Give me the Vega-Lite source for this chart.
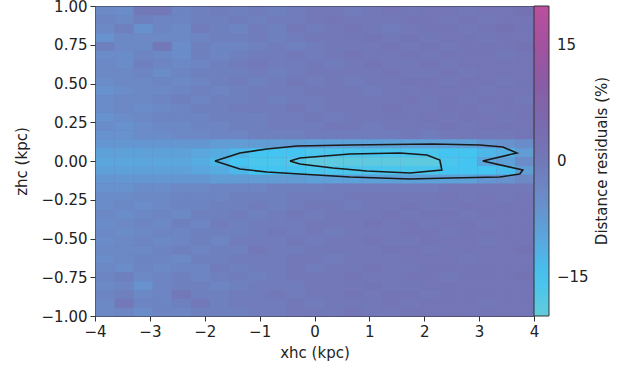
{
"$schema":"https://vega.github.io/schema/vega-lite/v6.json",
"width":439,"height":310,
"autosize":{"type":"none"},
"padding":{"left":95,"top":6,"right":96,"bottom":54},
"background":"white",
"config":{"font":"DejaVu Sans","view":{"stroke":"#333","strokeWidth":1,"fill":"#6f80be"},
"axis":{"domain":false,"grid":false,"tickColor":"#333","tickSize":5,"labelFontSize":15,"labelColor":"#222","titleFontSize":15,"titleFontWeight":"normal","titleColor":"#222","labelFont":"DejaVu Sans","titleFont":"DejaVu Sans","labelFlush":false}},
"datasets":{
"grid":[
{"x":-4,"z":0.943,"r":-4},{"x":-3.652,"z":0.943,"r":-5},{"x":-3.304,"z":0.943,"r":0},{"x":-2.957,"z":0.943,"r":0},{"x":-2.609,"z":0.943,"r":-3},{"x":-2.261,"z":0.943,"r":-2},{"x":-1.913,"z":0.943,"r":-1},{"x":-1.565,"z":0.943,"r":-2},{"x":-1.217,"z":0.943,"r":-1},{"x":-0.87,"z":0.943,"r":-2},{"x":-0.522,"z":0.943,"r":-1},{"x":-0.174,"z":0.943,"r":0},{"x":0.174,"z":0.943,"r":0},{"x":0.522,"z":0.943,"r":-1},{"x":0.87,"z":0.943,"r":0},{"x":1.217,"z":0.943,"r":1},{"x":1.565,"z":0.943,"r":0},{"x":1.913,"z":0.943,"r":1},{"x":2.261,"z":0.943,"r":1},{"x":2.609,"z":0.943,"r":0},{"x":2.957,"z":0.943,"r":1},{"x":3.304,"z":0.943,"r":1},{"x":3.652,"z":0.943,"r":2},
{"x":-4,"z":0.886,"r":-3},{"x":-3.652,"z":0.886,"r":-4},{"x":-3.304,"z":0.886,"r":-2},{"x":-2.957,"z":0.886,"r":-3},{"x":-2.609,"z":0.886,"r":-3},{"x":-2.261,"z":0.886,"r":-2},{"x":-1.913,"z":0.886,"r":-2},{"x":-1.565,"z":0.886,"r":-1},{"x":-1.217,"z":0.886,"r":-2},{"x":-0.87,"z":0.886,"r":-1},{"x":-0.522,"z":0.886,"r":-1},{"x":-0.174,"z":0.886,"r":0},{"x":0.174,"z":0.886,"r":1},{"x":0.522,"z":0.886,"r":0},{"x":0.87,"z":0.886,"r":0},{"x":1.217,"z":0.886,"r":0},{"x":1.565,"z":0.886,"r":1},{"x":1.913,"z":0.886,"r":1},{"x":2.261,"z":0.886,"r":0},{"x":2.609,"z":0.886,"r":1},{"x":2.957,"z":0.886,"r":0},{"x":3.304,"z":0.886,"r":1},{"x":3.652,"z":0.886,"r":1},
{"x":-4,"z":0.829,"r":-4},{"x":-3.652,"z":0.829,"r":-2},{"x":-3.304,"z":0.829,"r":-6},{"x":-2.957,"z":0.829,"r":-3},{"x":-2.609,"z":0.829,"r":-4},{"x":-2.261,"z":0.829,"r":-1},{"x":-1.913,"z":0.829,"r":-2},{"x":-1.565,"z":0.829,"r":-3},{"x":-1.217,"z":0.829,"r":-1},{"x":-0.87,"z":0.829,"r":-2},{"x":-0.522,"z":0.829,"r":0},{"x":-0.174,"z":0.829,"r":-1},{"x":0.174,"z":0.829,"r":0},{"x":0.522,"z":0.829,"r":1},{"x":0.87,"z":0.829,"r":0},{"x":1.217,"z":0.829,"r":-1},{"x":1.565,"z":0.829,"r":0},{"x":1.913,"z":0.829,"r":1},{"x":2.261,"z":0.829,"r":1},{"x":2.609,"z":0.829,"r":0},{"x":2.957,"z":0.829,"r":1},{"x":3.304,"z":0.829,"r":2},{"x":3.652,"z":0.829,"r":1},
{"x":-4,"z":0.771,"r":-6},{"x":-3.652,"z":0.771,"r":-4},{"x":-3.304,"z":0.771,"r":-4},{"x":-2.957,"z":0.771,"r":-4},{"x":-2.609,"z":0.771,"r":-4},{"x":-2.261,"z":0.771,"r":-3},{"x":-1.913,"z":0.771,"r":-2},{"x":-1.565,"z":0.771,"r":-2},{"x":-1.217,"z":0.771,"r":-1},{"x":-0.87,"z":0.771,"r":-2},{"x":-0.522,"z":0.771,"r":-1},{"x":-0.174,"z":0.771,"r":0},{"x":0.174,"z":0.771,"r":0},{"x":0.522,"z":0.771,"r":0},{"x":0.87,"z":0.771,"r":1},{"x":1.217,"z":0.771,"r":0},{"x":1.565,"z":0.771,"r":1},{"x":1.913,"z":0.771,"r":0},{"x":2.261,"z":0.771,"r":1},{"x":2.609,"z":0.771,"r":1},{"x":2.957,"z":0.771,"r":0},{"x":3.304,"z":0.771,"r":1},{"x":3.652,"z":0.771,"r":1},
{"x":-4,"z":0.714,"r":-2},{"x":-3.652,"z":0.714,"r":-4},{"x":-3.304,"z":0.714,"r":-4},{"x":-2.957,"z":0.714,"r":0},{"x":-2.609,"z":0.714,"r":-5},{"x":-2.261,"z":0.714,"r":-2},{"x":-1.913,"z":0.714,"r":-3},{"x":-1.565,"z":0.714,"r":-3},{"x":-1.217,"z":0.714,"r":-2},{"x":-0.87,"z":0.714,"r":-1},{"x":-0.522,"z":0.714,"r":-2},{"x":-0.174,"z":0.714,"r":-1},{"x":0.174,"z":0.714,"r":0},{"x":0.522,"z":0.714,"r":0},{"x":0.87,"z":0.714,"r":0},{"x":1.217,"z":0.714,"r":1},{"x":1.565,"z":0.714,"r":0},{"x":1.913,"z":0.714,"r":1},{"x":2.261,"z":0.714,"r":0},{"x":2.609,"z":0.714,"r":1},{"x":2.957,"z":0.714,"r":1},{"x":3.304,"z":0.714,"r":1},{"x":3.652,"z":0.714,"r":2},
{"x":-4,"z":0.657,"r":-5},{"x":-3.652,"z":0.657,"r":-5},{"x":-3.304,"z":0.657,"r":-3},{"x":-2.957,"z":0.657,"r":-4},{"x":-2.609,"z":0.657,"r":-5},{"x":-2.261,"z":0.657,"r":-2},{"x":-1.913,"z":0.657,"r":-3},{"x":-1.565,"z":0.657,"r":-2},{"x":-1.217,"z":0.657,"r":-1},{"x":-0.87,"z":0.657,"r":-1},{"x":-0.522,"z":0.657,"r":0},{"x":-0.174,"z":0.657,"r":-1},{"x":0.174,"z":0.657,"r":0},{"x":0.522,"z":0.657,"r":1},{"x":0.87,"z":0.657,"r":0},{"x":1.217,"z":0.657,"r":0},{"x":1.565,"z":0.657,"r":1},{"x":1.913,"z":0.657,"r":0},{"x":2.261,"z":0.657,"r":1},{"x":2.609,"z":0.657,"r":1},{"x":2.957,"z":0.657,"r":1},{"x":3.304,"z":0.657,"r":0},{"x":3.652,"z":0.657,"r":1},
{"x":-4,"z":0.6,"r":-4},{"x":-3.652,"z":0.6,"r":-5},{"x":-3.304,"z":0.6,"r":-2},{"x":-2.957,"z":0.6,"r":-3},{"x":-2.609,"z":0.6,"r":-4},{"x":-2.261,"z":0.6,"r":-3},{"x":-1.913,"z":0.6,"r":-2},{"x":-1.565,"z":0.6,"r":-1},{"x":-1.217,"z":0.6,"r":0},{"x":-0.87,"z":0.6,"r":-1},{"x":-0.522,"z":0.6,"r":-1},{"x":-0.174,"z":0.6,"r":0},{"x":0.174,"z":0.6,"r":-1},{"x":0.522,"z":0.6,"r":0},{"x":0.87,"z":0.6,"r":1},{"x":1.217,"z":0.6,"r":0},{"x":1.565,"z":0.6,"r":0},{"x":1.913,"z":0.6,"r":1},{"x":2.261,"z":0.6,"r":0},{"x":2.609,"z":0.6,"r":1},{"x":2.957,"z":0.6,"r":1},{"x":3.304,"z":0.6,"r":1},{"x":3.652,"z":0.6,"r":1},
{"x":-4,"z":0.543,"r":-4},{"x":-3.652,"z":0.543,"r":-4},{"x":-3.304,"z":0.543,"r":-3},{"x":-2.957,"z":0.543,"r":-5},{"x":-2.609,"z":0.543,"r":-3},{"x":-2.261,"z":0.543,"r":-2},{"x":-1.913,"z":0.543,"r":-2},{"x":-1.565,"z":0.543,"r":-2},{"x":-1.217,"z":0.543,"r":-1},{"x":-0.87,"z":0.543,"r":-2},{"x":-0.522,"z":0.543,"r":-1},{"x":-0.174,"z":0.543,"r":0},{"x":0.174,"z":0.543,"r":0},{"x":0.522,"z":0.543,"r":0},{"x":0.87,"z":0.543,"r":0},{"x":1.217,"z":0.543,"r":1},{"x":1.565,"z":0.543,"r":0},{"x":1.913,"z":0.543,"r":0},{"x":2.261,"z":0.543,"r":1},{"x":2.609,"z":0.543,"r":0},{"x":2.957,"z":0.543,"r":1},{"x":3.304,"z":0.543,"r":1},{"x":3.652,"z":0.543,"r":1},
{"x":-4,"z":0.486,"r":-5},{"x":-3.652,"z":0.486,"r":-4},{"x":-3.304,"z":0.486,"r":-4},{"x":-2.957,"z":0.486,"r":-3},{"x":-2.609,"z":0.486,"r":-4},{"x":-2.261,"z":0.486,"r":-3},{"x":-1.913,"z":0.486,"r":-2},{"x":-1.565,"z":0.486,"r":-1},{"x":-1.217,"z":0.486,"r":-2},{"x":-0.87,"z":0.486,"r":-1},{"x":-0.522,"z":0.486,"r":0},{"x":-0.174,"z":0.486,"r":-1},{"x":0.174,"z":0.486,"r":0},{"x":0.522,"z":0.486,"r":-1},{"x":0.87,"z":0.486,"r":0},{"x":1.217,"z":0.486,"r":0},{"x":1.565,"z":0.486,"r":1},{"x":1.913,"z":0.486,"r":1},{"x":2.261,"z":0.486,"r":0},{"x":2.609,"z":0.486,"r":1},{"x":2.957,"z":0.486,"r":1},{"x":3.304,"z":0.486,"r":0},{"x":3.652,"z":0.486,"r":1},
{"x":-4,"z":0.429,"r":-6},{"x":-3.652,"z":0.429,"r":-5},{"x":-3.304,"z":0.429,"r":-4},{"x":-2.957,"z":0.429,"r":-4},{"x":-2.609,"z":0.429,"r":-3},{"x":-2.261,"z":0.429,"r":-2},{"x":-1.913,"z":0.429,"r":-3},{"x":-1.565,"z":0.429,"r":-2},{"x":-1.217,"z":0.429,"r":-1},{"x":-0.87,"z":0.429,"r":-1},{"x":-0.522,"z":0.429,"r":-1},{"x":-0.174,"z":0.429,"r":0},{"x":0.174,"z":0.429,"r":0},{"x":0.522,"z":0.429,"r":0},{"x":0.87,"z":0.429,"r":-1},{"x":1.217,"z":0.429,"r":0},{"x":1.565,"z":0.429,"r":0},{"x":1.913,"z":0.429,"r":1},{"x":2.261,"z":0.429,"r":1},{"x":2.609,"z":0.429,"r":1},{"x":2.957,"z":0.429,"r":0},{"x":3.304,"z":0.429,"r":1},{"x":3.652,"z":0.429,"r":1},
{"x":-4,"z":0.371,"r":-5},{"x":-3.652,"z":0.371,"r":-4},{"x":-3.304,"z":0.371,"r":-4},{"x":-2.957,"z":0.371,"r":-3},{"x":-2.609,"z":0.371,"r":-2},{"x":-2.261,"z":0.371,"r":-3},{"x":-1.913,"z":0.371,"r":-2},{"x":-1.565,"z":0.371,"r":-2},{"x":-1.217,"z":0.371,"r":-1},{"x":-0.87,"z":0.371,"r":-2},{"x":-0.522,"z":0.371,"r":-1},{"x":-0.174,"z":0.371,"r":-1},{"x":0.174,"z":0.371,"r":0},{"x":0.522,"z":0.371,"r":0},{"x":0.87,"z":0.371,"r":0},{"x":1.217,"z":0.371,"r":0},{"x":1.565,"z":0.371,"r":1},{"x":1.913,"z":0.371,"r":0},{"x":2.261,"z":0.371,"r":1},{"x":2.609,"z":0.371,"r":0},{"x":2.957,"z":0.371,"r":1},{"x":3.304,"z":0.371,"r":1},{"x":3.652,"z":0.371,"r":0},
{"x":-4,"z":0.314,"r":-5},{"x":-3.652,"z":0.314,"r":-4},{"x":-3.304,"z":0.314,"r":-5},{"x":-2.957,"z":0.314,"r":-4},{"x":-2.609,"z":0.314,"r":-3},{"x":-2.261,"z":0.314,"r":-2},{"x":-1.913,"z":0.314,"r":-2},{"x":-1.565,"z":0.314,"r":-1},{"x":-1.217,"z":0.314,"r":-1},{"x":-0.87,"z":0.314,"r":-1},{"x":-0.522,"z":0.314,"r":0},{"x":-0.174,"z":0.314,"r":-1},{"x":0.174,"z":0.314,"r":0},{"x":0.522,"z":0.314,"r":0},{"x":0.87,"z":0.314,"r":0},{"x":1.217,"z":0.314,"r":1},{"x":1.565,"z":0.314,"r":0},{"x":1.913,"z":0.314,"r":0},{"x":2.261,"z":0.314,"r":1},{"x":2.609,"z":0.314,"r":1},{"x":2.957,"z":0.314,"r":0},{"x":3.304,"z":0.314,"r":1},{"x":3.652,"z":0.314,"r":1},
{"x":-4,"z":0.257,"r":-6},{"x":-3.652,"z":0.257,"r":-5},{"x":-3.304,"z":0.257,"r":-4},{"x":-2.957,"z":0.257,"r":-3},{"x":-2.609,"z":0.257,"r":-3},{"x":-2.261,"z":0.257,"r":-3},{"x":-1.913,"z":0.257,"r":-2},{"x":-1.565,"z":0.257,"r":-2},{"x":-1.217,"z":0.257,"r":-2},{"x":-0.87,"z":0.257,"r":-1},{"x":-0.522,"z":0.257,"r":-1},{"x":-0.174,"z":0.257,"r":0},{"x":0.174,"z":0.257,"r":-1},{"x":0.522,"z":0.257,"r":0},{"x":0.87,"z":0.257,"r":0},{"x":1.217,"z":0.257,"r":0},{"x":1.565,"z":0.257,"r":0},{"x":1.913,"z":0.257,"r":1},{"x":2.261,"z":0.257,"r":0},{"x":2.609,"z":0.257,"r":1},{"x":2.957,"z":0.257,"r":1},{"x":3.304,"z":0.257,"r":0},{"x":3.652,"z":0.257,"r":1},
{"x":-4,"z":0.2,"r":-5},{"x":-3.652,"z":0.2,"r":-6},{"x":-3.304,"z":0.2,"r":-5},{"x":-2.957,"z":0.2,"r":-4},{"x":-2.609,"z":0.2,"r":-4},{"x":-2.261,"z":0.2,"r":-3},{"x":-1.913,"z":0.2,"r":-3},{"x":-1.565,"z":0.2,"r":-2},{"x":-1.217,"z":0.2,"r":-2},{"x":-0.87,"z":0.2,"r":-1},{"x":-0.522,"z":0.2,"r":-1},{"x":-0.174,"z":0.2,"r":-1},{"x":0.174,"z":0.2,"r":0},{"x":0.522,"z":0.2,"r":0},{"x":0.87,"z":0.2,"r":-1},{"x":1.217,"z":0.2,"r":0},{"x":1.565,"z":0.2,"r":0},{"x":1.913,"z":0.2,"r":0},{"x":2.261,"z":0.2,"r":1},{"x":2.609,"z":0.2,"r":0},{"x":2.957,"z":0.2,"r":1},{"x":3.304,"z":0.2,"r":1},{"x":3.652,"z":0.2,"r":1},
{"x":-4,"z":0.143,"r":-6},{"x":-3.652,"z":0.143,"r":-6},{"x":-3.304,"z":0.143,"r":-5},{"x":-2.957,"z":0.143,"r":-5},{"x":-2.609,"z":0.143,"r":-4},{"x":-2.261,"z":0.143,"r":-4},{"x":-1.913,"z":0.143,"r":-3},{"x":-1.565,"z":0.143,"r":-3},{"x":-1.217,"z":0.143,"r":-2},{"x":-0.87,"z":0.143,"r":-2},{"x":-0.522,"z":0.143,"r":-2},{"x":-0.174,"z":0.143,"r":-1},{"x":0.174,"z":0.143,"r":-1},{"x":0.522,"z":0.143,"r":-1},{"x":0.87,"z":0.143,"r":-1},{"x":1.217,"z":0.143,"r":-1},{"x":1.565,"z":0.143,"r":0},{"x":1.913,"z":0.143,"r":-1},{"x":2.261,"z":0.143,"r":0},{"x":2.609,"z":0.143,"r":0},{"x":2.957,"z":0.143,"r":0},{"x":3.304,"z":0.143,"r":0},{"x":3.652,"z":0.143,"r":1},
{"x":-4,"z":0.086,"r":-7},{"x":-3.652,"z":0.086,"r":-7},{"x":-3.304,"z":0.086,"r":-7},{"x":-2.957,"z":0.086,"r":-7},{"x":-2.609,"z":0.086,"r":-7},{"x":-2.261,"z":0.086,"r":-7},{"x":-1.913,"z":0.086,"r":-8},{"x":-1.565,"z":0.086,"r":-8},{"x":-1.217,"z":0.086,"r":-8},{"x":-0.87,"z":0.086,"r":-8},{"x":-0.522,"z":0.086,"r":-8},{"x":-0.174,"z":0.086,"r":-9},{"x":0.174,"z":0.086,"r":-9},{"x":0.522,"z":0.086,"r":-9},{"x":0.87,"z":0.086,"r":-9},{"x":1.217,"z":0.086,"r":-9},{"x":1.565,"z":0.086,"r":-9},{"x":1.913,"z":0.086,"r":-9},{"x":2.261,"z":0.086,"r":-9},{"x":2.609,"z":0.086,"r":-9},{"x":2.957,"z":0.086,"r":-7},{"x":3.304,"z":0.086,"r":-6},{"x":3.652,"z":0.086,"r":-5},
{"x":-4,"z":0.029,"r":-9},{"x":-3.652,"z":0.029,"r":-9},{"x":-3.304,"z":0.029,"r":-9},{"x":-2.957,"z":0.029,"r":-9},{"x":-2.609,"z":0.029,"r":-9},{"x":-2.261,"z":0.029,"r":-10},{"x":-1.913,"z":0.029,"r":-11},{"x":-1.565,"z":0.029,"r":-13},{"x":-1.217,"z":0.029,"r":-15},{"x":-0.87,"z":0.029,"r":-15},{"x":-0.522,"z":0.029,"r":-15},{"x":-0.174,"z":0.029,"r":-16},{"x":0.174,"z":0.029,"r":-16},{"x":0.522,"z":0.029,"r":-16},{"x":0.87,"z":0.029,"r":-16},{"x":1.217,"z":0.029,"r":-16},{"x":1.565,"z":0.029,"r":-16},{"x":1.913,"z":0.029,"r":-16},{"x":2.261,"z":0.029,"r":-15},{"x":2.609,"z":0.029,"r":-15},{"x":2.957,"z":0.029,"r":-13},{"x":3.304,"z":0.029,"r":-12},{"x":3.652,"z":0.029,"r":-8},
{"x":-4,"z":-0.029,"r":-10},{"x":-3.652,"z":-0.029,"r":-10},{"x":-3.304,"z":-0.029,"r":-10},{"x":-2.957,"z":-0.029,"r":-10},{"x":-2.609,"z":-0.029,"r":-10},{"x":-2.261,"z":-0.029,"r":-11},{"x":-1.913,"z":-0.029,"r":-13},{"x":-1.565,"z":-0.029,"r":-15},{"x":-1.217,"z":-0.029,"r":-16},{"x":-0.87,"z":-0.029,"r":-16},{"x":-0.522,"z":-0.029,"r":-17},{"x":-0.174,"z":-0.029,"r":-19},{"x":0.174,"z":-0.029,"r":-19},{"x":0.522,"z":-0.029,"r":-19},{"x":0.87,"z":-0.029,"r":-19},{"x":1.217,"z":-0.029,"r":-19},{"x":1.565,"z":-0.029,"r":-19},{"x":1.913,"z":-0.029,"r":-19},{"x":2.261,"z":-0.029,"r":-16},{"x":2.609,"z":-0.029,"r":-15},{"x":2.957,"z":-0.029,"r":-10},{"x":3.304,"z":-0.029,"r":-9},{"x":3.652,"z":-0.029,"r":-5},
{"x":-4,"z":-0.086,"r":-9},{"x":-3.652,"z":-0.086,"r":-9},{"x":-3.304,"z":-0.086,"r":-9},{"x":-2.957,"z":-0.086,"r":-9},{"x":-2.609,"z":-0.086,"r":-9},{"x":-2.261,"z":-0.086,"r":-10},{"x":-1.913,"z":-0.086,"r":-11},{"x":-1.565,"z":-0.086,"r":-13},{"x":-1.217,"z":-0.086,"r":-15},{"x":-0.87,"z":-0.086,"r":-15},{"x":-0.522,"z":-0.086,"r":-15},{"x":-0.174,"z":-0.086,"r":-16},{"x":0.174,"z":-0.086,"r":-16},{"x":0.522,"z":-0.086,"r":-16},{"x":0.87,"z":-0.086,"r":-16},{"x":1.217,"z":-0.086,"r":-16},{"x":1.565,"z":-0.086,"r":-16},{"x":1.913,"z":-0.086,"r":-16},{"x":2.261,"z":-0.086,"r":-15},{"x":2.609,"z":-0.086,"r":-15},{"x":2.957,"z":-0.086,"r":-15},{"x":3.304,"z":-0.086,"r":-14},{"x":3.652,"z":-0.086,"r":-8},
{"x":-4,"z":-0.143,"r":-7},{"x":-3.652,"z":-0.143,"r":-7},{"x":-3.304,"z":-0.143,"r":-7},{"x":-2.957,"z":-0.143,"r":-7},{"x":-2.609,"z":-0.143,"r":-7},{"x":-2.261,"z":-0.143,"r":-7},{"x":-1.913,"z":-0.143,"r":-8},{"x":-1.565,"z":-0.143,"r":-8},{"x":-1.217,"z":-0.143,"r":-8},{"x":-0.87,"z":-0.143,"r":-8},{"x":-0.522,"z":-0.143,"r":-8},{"x":-0.174,"z":-0.143,"r":-9},{"x":0.174,"z":-0.143,"r":-9},{"x":0.522,"z":-0.143,"r":-9},{"x":0.87,"z":-0.143,"r":-9},{"x":1.217,"z":-0.143,"r":-9},{"x":1.565,"z":-0.143,"r":-9},{"x":1.913,"z":-0.143,"r":-9},{"x":2.261,"z":-0.143,"r":-9},{"x":2.609,"z":-0.143,"r":-9},{"x":2.957,"z":-0.143,"r":-7},{"x":3.304,"z":-0.143,"r":-6},{"x":3.652,"z":-0.143,"r":-4},
{"x":-4,"z":-0.2,"r":-6},{"x":-3.652,"z":-0.2,"r":-6},{"x":-3.304,"z":-0.2,"r":-5},{"x":-2.957,"z":-0.2,"r":-5},{"x":-2.609,"z":-0.2,"r":-4},{"x":-2.261,"z":-0.2,"r":-4},{"x":-1.913,"z":-0.2,"r":-3},{"x":-1.565,"z":-0.2,"r":-3},{"x":-1.217,"z":-0.2,"r":-3},{"x":-0.87,"z":-0.2,"r":-2},{"x":-0.522,"z":-0.2,"r":-2},{"x":-0.174,"z":-0.2,"r":-2},{"x":0.174,"z":-0.2,"r":-1},{"x":0.522,"z":-0.2,"r":-1},{"x":0.87,"z":-0.2,"r":-1},{"x":1.217,"z":-0.2,"r":-1},{"x":1.565,"z":-0.2,"r":-1},{"x":1.913,"z":-0.2,"r":-1},{"x":2.261,"z":-0.2,"r":0},{"x":2.609,"z":-0.2,"r":0},{"x":2.957,"z":-0.2,"r":0},{"x":3.304,"z":-0.2,"r":0},{"x":3.652,"z":-0.2,"r":0},
{"x":-4,"z":-0.257,"r":-5},{"x":-3.652,"z":-0.257,"r":-5},{"x":-3.304,"z":-0.257,"r":-4},{"x":-2.957,"z":-0.257,"r":-4},{"x":-2.609,"z":-0.257,"r":-3},{"x":-2.261,"z":-0.257,"r":-3},{"x":-1.913,"z":-0.257,"r":-3},{"x":-1.565,"z":-0.257,"r":-2},{"x":-1.217,"z":-0.257,"r":-2},{"x":-0.87,"z":-0.257,"r":-2},{"x":-0.522,"z":-0.257,"r":-1},{"x":-0.174,"z":-0.257,"r":-1},{"x":0.174,"z":-0.257,"r":-1},{"x":0.522,"z":-0.257,"r":0},{"x":0.87,"z":-0.257,"r":0},{"x":1.217,"z":-0.257,"r":0},{"x":1.565,"z":-0.257,"r":0},{"x":1.913,"z":-0.257,"r":0},{"x":2.261,"z":-0.257,"r":1},{"x":2.609,"z":-0.257,"r":0},{"x":2.957,"z":-0.257,"r":1},{"x":3.304,"z":-0.257,"r":0},{"x":3.652,"z":-0.257,"r":1},
{"x":-4,"z":-0.314,"r":-5},{"x":-3.652,"z":-0.314,"r":-4},{"x":-3.304,"z":-0.314,"r":-5},{"x":-2.957,"z":-0.314,"r":-4},{"x":-2.609,"z":-0.314,"r":-3},{"x":-2.261,"z":-0.314,"r":-3},{"x":-1.913,"z":-0.314,"r":-2},{"x":-1.565,"z":-0.314,"r":-2},{"x":-1.217,"z":-0.314,"r":-1},{"x":-0.87,"z":-0.314,"r":-2},{"x":-0.522,"z":-0.314,"r":-1},{"x":-0.174,"z":-0.314,"r":0},{"x":0.174,"z":-0.314,"r":0},{"x":0.522,"z":-0.314,"r":-1},{"x":0.87,"z":-0.314,"r":0},{"x":1.217,"z":-0.314,"r":0},{"x":1.565,"z":-0.314,"r":1},{"x":1.913,"z":-0.314,"r":0},{"x":2.261,"z":-0.314,"r":0},{"x":2.609,"z":-0.314,"r":1},{"x":2.957,"z":-0.314,"r":1},{"x":3.304,"z":-0.314,"r":1},{"x":3.652,"z":-0.314,"r":1},
{"x":-4,"z":-0.371,"r":-4},{"x":-3.652,"z":-0.371,"r":-5},{"x":-3.304,"z":-0.371,"r":-4},{"x":-2.957,"z":-0.371,"r":-3},{"x":-2.609,"z":-0.371,"r":-4},{"x":-2.261,"z":-0.371,"r":-2},{"x":-1.913,"z":-0.371,"r":-2},{"x":-1.565,"z":-0.371,"r":-1},{"x":-1.217,"z":-0.371,"r":-2},{"x":-0.87,"z":-0.371,"r":-1},{"x":-0.522,"z":-0.371,"r":0},{"x":-0.174,"z":-0.371,"r":-1},{"x":0.174,"z":-0.371,"r":0},{"x":0.522,"z":-0.371,"r":0},{"x":0.87,"z":-0.371,"r":0},{"x":1.217,"z":-0.371,"r":1},{"x":1.565,"z":-0.371,"r":0},{"x":1.913,"z":-0.371,"r":1},{"x":2.261,"z":-0.371,"r":1},{"x":2.609,"z":-0.371,"r":0},{"x":2.957,"z":-0.371,"r":1},{"x":3.304,"z":-0.371,"r":1},{"x":3.652,"z":-0.371,"r":1},
{"x":-4,"z":-0.429,"r":-5},{"x":-3.652,"z":-0.429,"r":-4},{"x":-3.304,"z":-0.429,"r":-3},{"x":-2.957,"z":-0.429,"r":-4},{"x":-2.609,"z":-0.429,"r":-2},{"x":-2.261,"z":-0.429,"r":-3},{"x":-1.913,"z":-0.429,"r":-1},{"x":-1.565,"z":-0.429,"r":-2},{"x":-1.217,"z":-0.429,"r":-1},{"x":-0.87,"z":-0.429,"r":-1},{"x":-0.522,"z":-0.429,"r":-1},{"x":-0.174,"z":-0.429,"r":0},{"x":0.174,"z":-0.429,"r":0},{"x":0.522,"z":-0.429,"r":0},{"x":0.87,"z":-0.429,"r":1},{"x":1.217,"z":-0.429,"r":0},{"x":1.565,"z":-0.429,"r":1},{"x":1.913,"z":-0.429,"r":0},{"x":2.261,"z":-0.429,"r":1},{"x":2.609,"z":-0.429,"r":1},{"x":2.957,"z":-0.429,"r":0},{"x":3.304,"z":-0.429,"r":1},{"x":3.652,"z":-0.429,"r":1},
{"x":-4,"z":-0.486,"r":-4},{"x":-3.652,"z":-0.486,"r":-5},{"x":-3.304,"z":-0.486,"r":-4},{"x":-2.957,"z":-0.486,"r":-3},{"x":-2.609,"z":-0.486,"r":-3},{"x":-2.261,"z":-0.486,"r":-2},{"x":-1.913,"z":-0.486,"r":-2},{"x":-1.565,"z":-0.486,"r":-2},{"x":-1.217,"z":-0.486,"r":-1},{"x":-0.87,"z":-0.486,"r":0},{"x":-0.522,"z":-0.486,"r":-1},{"x":-0.174,"z":-0.486,"r":0},{"x":0.174,"z":-0.486,"r":-1},{"x":0.522,"z":-0.486,"r":0},{"x":0.87,"z":-0.486,"r":0},{"x":1.217,"z":-0.486,"r":0},{"x":1.565,"z":-0.486,"r":1},{"x":1.913,"z":-0.486,"r":1},{"x":2.261,"z":-0.486,"r":0},{"x":2.609,"z":-0.486,"r":1},{"x":2.957,"z":-0.486,"r":1},{"x":3.304,"z":-0.486,"r":1},{"x":3.652,"z":-0.486,"r":1},
{"x":-4,"z":-0.543,"r":-5},{"x":-3.652,"z":-0.543,"r":-4},{"x":-3.304,"z":-0.543,"r":-3},{"x":-2.957,"z":-0.543,"r":-4},{"x":-2.609,"z":-0.543,"r":-3},{"x":-2.261,"z":-0.543,"r":-2},{"x":-1.913,"z":-0.543,"r":-3},{"x":-1.565,"z":-0.543,"r":-1},{"x":-1.217,"z":-0.543,"r":-1},{"x":-0.87,"z":-0.543,"r":-1},{"x":-0.522,"z":-0.543,"r":0},{"x":-0.174,"z":-0.543,"r":-1},{"x":0.174,"z":-0.543,"r":0},{"x":0.522,"z":-0.543,"r":0},{"x":0.87,"z":-0.543,"r":1},{"x":1.217,"z":-0.543,"r":0},{"x":1.565,"z":-0.543,"r":0},{"x":1.913,"z":-0.543,"r":1},{"x":2.261,"z":-0.543,"r":1},{"x":2.609,"z":-0.543,"r":1},{"x":2.957,"z":-0.543,"r":0},{"x":3.304,"z":-0.543,"r":1},{"x":3.652,"z":-0.543,"r":1},
{"x":-4,"z":-0.6,"r":-4},{"x":-3.652,"z":-0.6,"r":-4},{"x":-3.304,"z":-0.6,"r":-4},{"x":-2.957,"z":-0.6,"r":-3},{"x":-2.609,"z":-0.6,"r":-2},{"x":-2.261,"z":-0.6,"r":-3},{"x":-1.913,"z":-0.6,"r":-2},{"x":-1.565,"z":-0.6,"r":-2},{"x":-1.217,"z":-0.6,"r":0},{"x":-0.87,"z":-0.6,"r":-1},{"x":-0.522,"z":-0.6,"r":-1},{"x":-0.174,"z":-0.6,"r":0},{"x":0.174,"z":-0.6,"r":0},{"x":0.522,"z":-0.6,"r":0},{"x":0.87,"z":-0.6,"r":0},{"x":1.217,"z":-0.6,"r":1},{"x":1.565,"z":-0.6,"r":1},{"x":1.913,"z":-0.6,"r":0},{"x":2.261,"z":-0.6,"r":1},{"x":2.609,"z":-0.6,"r":1},{"x":2.957,"z":-0.6,"r":1},{"x":3.304,"z":-0.6,"r":1},{"x":3.652,"z":-0.6,"r":2},
{"x":-4,"z":-0.657,"r":-5},{"x":-3.652,"z":-0.657,"r":-4},{"x":-3.304,"z":-0.657,"r":-3},{"x":-2.957,"z":-0.657,"r":-3},{"x":-2.609,"z":-0.657,"r":-4},{"x":-2.261,"z":-0.657,"r":-2},{"x":-1.913,"z":-0.657,"r":-2},{"x":-1.565,"z":-0.657,"r":-1},{"x":-1.217,"z":-0.657,"r":-1},{"x":-0.87,"z":-0.657,"r":-1},{"x":-0.522,"z":-0.657,"r":0},{"x":-0.174,"z":-0.657,"r":0},{"x":0.174,"z":-0.657,"r":-1},{"x":0.522,"z":-0.657,"r":0},{"x":0.87,"z":-0.657,"r":0},{"x":1.217,"z":-0.657,"r":0},{"x":1.565,"z":-0.657,"r":1},{"x":1.913,"z":-0.657,"r":1},{"x":2.261,"z":-0.657,"r":1},{"x":2.609,"z":-0.657,"r":0},{"x":2.957,"z":-0.657,"r":1},{"x":3.304,"z":-0.657,"r":1},{"x":3.652,"z":-0.657,"r":1},
{"x":-4,"z":-0.714,"r":-4},{"x":-3.652,"z":-0.714,"r":-5},{"x":-3.304,"z":-0.714,"r":-3},{"x":-2.957,"z":-0.714,"r":-4},{"x":-2.609,"z":-0.714,"r":-3},{"x":-2.261,"z":-0.714,"r":-3},{"x":-1.913,"z":-0.714,"r":-1},{"x":-1.565,"z":-0.714,"r":-2},{"x":-1.217,"z":-0.714,"r":-1},{"x":-0.87,"z":-0.714,"r":-1},{"x":-0.522,"z":-0.714,"r":0},{"x":-0.174,"z":-0.714,"r":-1},{"x":0.174,"z":-0.714,"r":0},{"x":0.522,"z":-0.714,"r":0},{"x":0.87,"z":-0.714,"r":1},{"x":1.217,"z":-0.714,"r":0},{"x":1.565,"z":-0.714,"r":0},{"x":1.913,"z":-0.714,"r":1},{"x":2.261,"z":-0.714,"r":1},{"x":2.609,"z":-0.714,"r":1},{"x":2.957,"z":-0.714,"r":1},{"x":3.304,"z":-0.714,"r":1},{"x":3.652,"z":-0.714,"r":1},
{"x":-4,"z":-0.771,"r":-3},{"x":-3.652,"z":-0.771,"r":-2},{"x":-3.304,"z":-0.771,"r":-4},{"x":-2.957,"z":-0.771,"r":-3},{"x":-2.609,"z":-0.771,"r":-2},{"x":-2.261,"z":-0.771,"r":-3},{"x":-1.913,"z":-0.771,"r":-2},{"x":-1.565,"z":-0.771,"r":-1},{"x":-1.217,"z":-0.771,"r":-2},{"x":-0.87,"z":-0.771,"r":-1},{"x":-0.522,"z":-0.771,"r":0},{"x":-0.174,"z":-0.771,"r":0},{"x":0.174,"z":-0.771,"r":0},{"x":0.522,"z":-0.771,"r":1},{"x":0.87,"z":-0.771,"r":0},{"x":1.217,"z":-0.771,"r":0},{"x":1.565,"z":-0.771,"r":1},{"x":1.913,"z":-0.771,"r":1},{"x":2.261,"z":-0.771,"r":0},{"x":2.609,"z":-0.771,"r":1},{"x":2.957,"z":-0.771,"r":1},{"x":3.304,"z":-0.771,"r":1},{"x":3.652,"z":-0.771,"r":2},
{"x":-4,"z":-0.829,"r":-4},{"x":-3.652,"z":-0.829,"r":-3},{"x":-3.304,"z":-0.829,"r":-6},{"x":-2.957,"z":-0.829,"r":-3},{"x":-2.609,"z":-0.829,"r":-2},{"x":-2.261,"z":-0.829,"r":-2},{"x":-1.913,"z":-0.829,"r":-3},{"x":-1.565,"z":-0.829,"r":-2},{"x":-1.217,"z":-0.829,"r":-1},{"x":-0.87,"z":-0.829,"r":-1},{"x":-0.522,"z":-0.829,"r":-1},{"x":-0.174,"z":-0.829,"r":0},{"x":0.174,"z":-0.829,"r":0},{"x":0.522,"z":-0.829,"r":0},{"x":0.87,"z":-0.829,"r":1},{"x":1.217,"z":-0.829,"r":0},{"x":1.565,"z":-0.829,"r":0},{"x":1.913,"z":-0.829,"r":1},{"x":2.261,"z":-0.829,"r":1},{"x":2.609,"z":-0.829,"r":1},{"x":2.957,"z":-0.829,"r":1},{"x":3.304,"z":-0.829,"r":1},{"x":3.652,"z":-0.829,"r":1},
{"x":-4,"z":-0.886,"r":-3},{"x":-3.652,"z":-0.886,"r":-2},{"x":-3.304,"z":-0.886,"r":-4},{"x":-2.957,"z":-0.886,"r":-3},{"x":-2.609,"z":-0.886,"r":0},{"x":-2.261,"z":-0.886,"r":-2},{"x":-1.913,"z":-0.886,"r":-2},{"x":-1.565,"z":-0.886,"r":-1},{"x":-1.217,"z":-0.886,"r":-1},{"x":-0.87,"z":-0.886,"r":0},{"x":-0.522,"z":-0.886,"r":-1},{"x":-0.174,"z":-0.886,"r":0},{"x":0.174,"z":-0.886,"r":0},{"x":0.522,"z":-0.886,"r":1},{"x":0.87,"z":-0.886,"r":0},{"x":1.217,"z":-0.886,"r":1},{"x":1.565,"z":-0.886,"r":1},{"x":1.913,"z":-0.886,"r":0},{"x":2.261,"z":-0.886,"r":1},{"x":2.609,"z":-0.886,"r":1},{"x":2.957,"z":-0.886,"r":1},{"x":3.304,"z":-0.886,"r":1},{"x":3.652,"z":-0.886,"r":1},
{"x":-4,"z":-0.943,"r":-4},{"x":-3.652,"z":-0.943,"r":0},{"x":-3.304,"z":-0.943,"r":-3},{"x":-2.957,"z":-0.943,"r":-3},{"x":-2.609,"z":-0.943,"r":-2},{"x":-2.261,"z":-0.943,"r":0},{"x":-1.913,"z":-0.943,"r":-2},{"x":-1.565,"z":-0.943,"r":-1},{"x":-1.217,"z":-0.943,"r":-1},{"x":-0.87,"z":-0.943,"r":-1},{"x":-0.522,"z":-0.943,"r":0},{"x":-0.174,"z":-0.943,"r":-1},{"x":0.174,"z":-0.943,"r":0},{"x":0.522,"z":-0.943,"r":0},{"x":0.87,"z":-0.943,"r":0},{"x":1.217,"z":-0.943,"r":1},{"x":1.565,"z":-0.943,"r":0},{"x":1.913,"z":-0.943,"r":1},{"x":2.261,"z":-0.943,"r":1},{"x":2.609,"z":-0.943,"r":1},{"x":2.957,"z":-0.943,"r":0},{"x":3.304,"z":-0.943,"r":1},{"x":3.652,"z":-0.943,"r":1},
{"x":-4,"z":-1,"r":-4},{"x":-3.652,"z":-1,"r":-3},{"x":-3.304,"z":-1,"r":-5},{"x":-2.957,"z":-1,"r":-3},{"x":-2.609,"z":-1,"r":-3},{"x":-2.261,"z":-1,"r":-2},{"x":-1.913,"z":-1,"r":-2},{"x":-1.565,"z":-1,"r":-2},{"x":-1.217,"z":-1,"r":-1},{"x":-0.87,"z":-1,"r":-1},{"x":-0.522,"z":-1,"r":0},{"x":-0.174,"z":-1,"r":0},{"x":0.174,"z":-1,"r":0},{"x":0.522,"z":-1,"r":1},{"x":0.87,"z":-1,"r":0},{"x":1.217,"z":-1,"r":0},{"x":1.565,"z":-1,"r":1},{"x":1.913,"z":-1,"r":1},{"x":2.261,"z":-1,"r":1},{"x":2.609,"z":-1,"r":1},{"x":2.957,"z":-1,"r":1},{"x":3.304,"z":-1,"r":1},{"x":3.652,"z":-1,"r":1}
],
"contours":[
{"c":"outer","o":0,"x":-1.814,"z":0},{"c":"outer","o":1,"x":-1.359,"z":0.052},{"c":"outer","o":2,"x":-0.867,"z":0.077},{"c":"outer","o":3,"x":-0.321,"z":0.097},{"c":"outer","o":4,"x":0.645,"z":0.103},{"c":"outer","o":5,"x":2.157,"z":0.11},{"c":"outer","o":6,"x":3.013,"z":0.103},{"c":"outer","o":7,"x":3.432,"z":0.09},{"c":"outer","o":8,"x":3.687,"z":0.052},{"c":"outer","o":9,"x":3.067,"z":0},{"c":"outer","o":10,"x":3.796,"z":-0.058},{"c":"outer","o":11,"x":3.741,"z":-0.084},{"c":"outer","o":12,"x":3.377,"z":-0.103},{"c":"outer","o":13,"x":2.466,"z":-0.11},{"c":"outer","o":14,"x":1.738,"z":-0.116},{"c":"outer","o":15,"x":0.645,"z":-0.103},{"c":"outer","o":16,"x":-0.266,"z":-0.084},{"c":"outer","o":17,"x":-0.867,"z":-0.071},{"c":"outer","o":18,"x":-1.359,"z":-0.052},{"c":"outer","o":19,"x":-1.814,"z":0},
{"c":"inner","o":0,"x":-0.448,"z":0},{"c":"inner","o":1,"x":-0.266,"z":0.019},{"c":"inner","o":2,"x":0.645,"z":0.045},{"c":"inner","o":3,"x":1.556,"z":0.052},{"c":"inner","o":4,"x":2.047,"z":0.039},{"c":"inner","o":5,"x":2.284,"z":0.006},{"c":"inner","o":6,"x":2.321,"z":-0.058},{"c":"inner","o":7,"x":1.738,"z":-0.077},{"c":"inner","o":8,"x":0.954,"z":-0.065},{"c":"inner","o":9,"x":0.335,"z":-0.045},{"c":"inner","o":10,"x":-0.266,"z":-0.019},{"c":"inner","o":11,"x":-0.448,"z":0}
]
},
"layer":[
{"data":{"name":"grid"},
 "mark":{"type":"rect","binSpacing":0},
 "encoding":{
  "x":{"field":"x","type":"quantitative","bin":{"binned":true,"step":0.347826},"scale":{"domain":[-4,4],"nice":false,"zero":false,"padding":0},
       "axis":{"values":[-4,-3,-2,-1,0,1,2,3,4],"format":"d","title":"xhc (kpc)","labelPadding":3,"titlePadding":6}},
  "y":{"field":"z","type":"quantitative","bin":{"binned":true,"step":0.0571429},"scale":{"domain":[-1,1],"nice":false,"zero":false,"padding":0},
       "axis":{"values":[-1,-0.75,-0.5,-0.25,0,0.25,0.5,0.75,1],"format":".2f","title":"zhc (kpc)","labelPadding":3,"titlePadding":12}},
  "color":{"field":"r","type":"quantitative",
    "scale":{"domain":[-20,20],"range":["#63cbdb","#44c4f0","#5ba6dd","#6a8dc9","#7278b8","#7a6aae","#8a5ca5","#a2529f","#bb4f9e"],"interpolate":"rgb"},
    "legend":{"orient":"right","offset":0,"padding":0,"direction":"vertical","gradientLength":310,"gradientThickness":15,"values":[-15,0,15],
      "labelFontSize":15,"labelColor":"#222","labelOffset":8,"labelFont":"DejaVu Sans",
      "title":"Distance residuals (%)","titleOrient":"right","titleFontSize":15,"titleFontWeight":"normal","titleColor":"#222","titleFont":"DejaVu Sans","titlePadding":6,"titleAnchor":"middle",
      "gradientStrokeColor":"#333","gradientStrokeWidth":1,
      "encoding":{"title":{"angle":{"value":-90},"baseline":{"value":"top"}}}}}
 }},
{"data":{"name":"contours"},
 "mark":{"type":"line","color":"#1a1a1a","strokeWidth":1.6,"interpolate":"linear"},
 "encoding":{"x":{"field":"x","type":"quantitative"},"y":{"field":"z","type":"quantitative"},"detail":{"field":"c"},"order":{"field":"o","type":"quantitative"}}},
{"mark":{"type":"text","text":"GC->","color":"white","fontWeight":"bold","fontSize":16,"font":"DejaVu Sans","align":"left","baseline":"middle"},
 "encoding":{"x":{"datum":2.35},"y":{"datum":0.42}}}
]
}
